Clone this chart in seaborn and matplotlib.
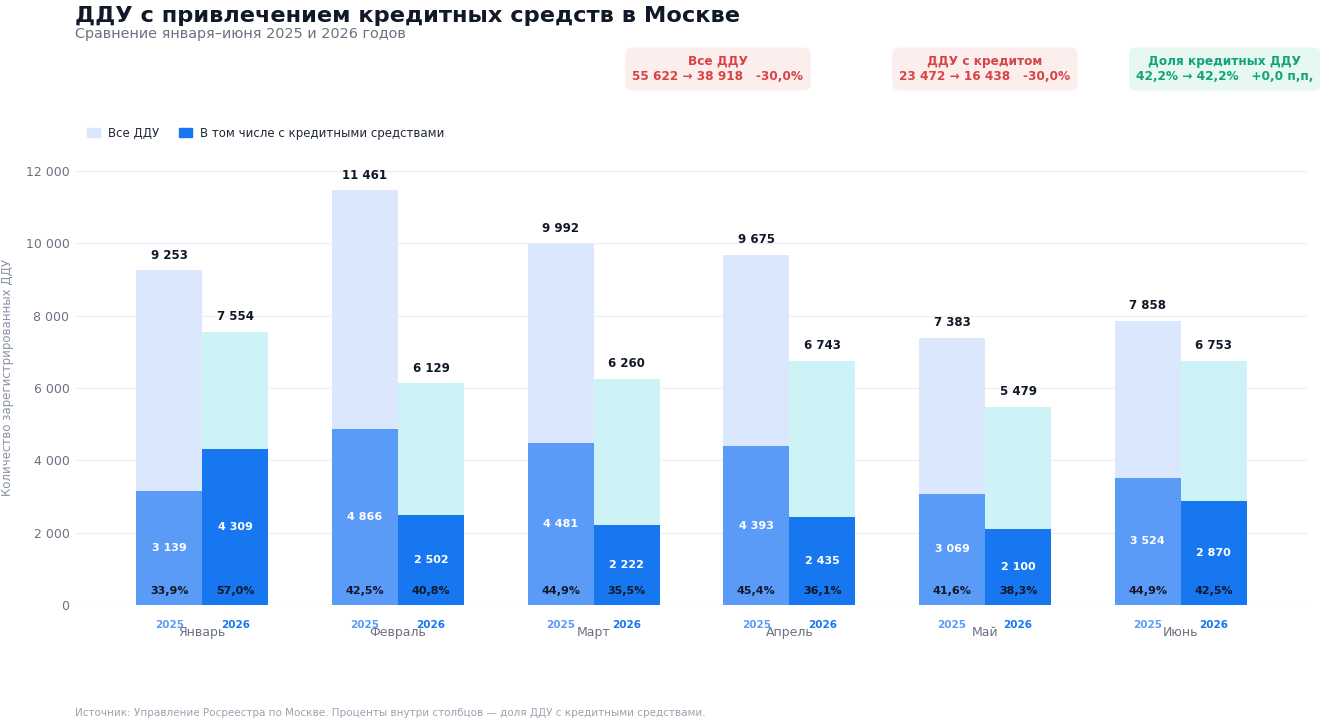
'''plot.py
ДДУ с привлечением кредитных средств в Москве, январь–июнь 2025 vs 2026
'''

import matplotlib.pyplot as plt
from matplotlib.patches import Patch
import seaborn as sns
import pandas as pd

# Data
months = ["Январь", "Февраль", "Март", "Апрель", "Май", "Июнь"]
years = ["2025", "2026"]
all_2025 = [9253, 11461, 9992, 9675, 7383, 7858]
all_2026 = [7554, 6129, 6260, 6743, 5479, 6753]
credit_2025 = [3139, 4866, 4481, 4393, 3069, 3524]
credit_2026 = [4309, 2502, 2222, 2435, 2100, 2870]
share_2025 = [33.9, 42.5, 44.9, 45.4, 41.6, 44.9]  # as printed in the source
share_2026 = [57.0, 40.8, 35.5, 36.1, 38.3, 42.5]

# Colours
C_ALL = {"2025": "#dbe7fd", "2026": "#cdf3f7"}
C_CRED = {"2025": "#5b9bf8", "2026": "#1677f0"}
DARK = "#111827"
GRAY = "#6b7280"


def fmt(v):
    return f"{v:,}".replace(",", " ")


def pct(v):
    return f"{v:.1f}%".replace(".", ",")


# Build long table
dat = pd.DataFrame({
    "Месяц": months * 2,
    "Год": ["2025"] * 6 + ["2026"] * 6,
    "Все": all_2025 + all_2026,
    "Кредит": credit_2025 + credit_2026,
})

sns.set_theme(style="white")
plt.rcParams["font.family"] = ["DejaVu Sans"]

fig = plt.figure(figsize=(13.2, 7.23), dpi=100)
ax = fig.add_axes([75 / 1320, 1 - 605 / 723, (1308 - 75) / 1320, (605 - 149) / 723])

sns.barplot(data=dat, x="Месяц", y="Все", hue="Год", palette=C_ALL, width=0.675,
            linewidth=0, saturation=1, legend=False, ax=ax, zorder=2)
sns.barplot(data=dat, x="Месяц", y="Кредит", hue="Год", palette=C_CRED, width=0.675,
            linewidth=0, saturation=1, legend=False, ax=ax, zorder=3)

# Labels on bars
all_vals = [all_2025, all_2026]
cred_vals = [credit_2025, credit_2026]
shares = [share_2025, share_2026]
for k in range(2):
    for i, bar in enumerate(ax.containers[k]):
        x = bar.get_x() + bar.get_width() / 2
        ax.annotate(fmt(all_vals[k][i]), (x, all_vals[k][i]), xytext=(0, 11),
                    textcoords="offset points", ha="center", va="center",
                    fontsize=8.5, fontweight="bold", color=DARK)
    for i, bar in enumerate(ax.containers[k + 2]):
        x = bar.get_x() + bar.get_width() / 2
        c = cred_vals[k][i]
        ax.text(x, c / 2, fmt(c), ha="center", va="center",
                fontsize=8, fontweight="bold", color="white", zorder=4)
        ax.annotate(pct(shares[k][i]), (x, 0), xytext=(0, 10),
                    textcoords="offset points", ha="center", va="center",
                    fontsize=8, fontweight="bold", color=DARK, zorder=4)
        ax.annotate(years[k], (x, 0), xytext=(0, -14.5), textcoords="offset points",
                    ha="center", va="center", fontsize=7.5, fontweight="bold",
                    color=C_CRED[years[k]], annotation_clip=False)

# Axes styling
ax.set_xlim(-0.65, 5.65)
ax.set_ylim(0, max(all_2025 + all_2026) * 1.1)
ax.set_yticks(range(0, 12001, 2000))
ax.set_yticklabels([fmt(v) for v in range(0, 12001, 2000)])
ax.yaxis.grid(True, color="#eef0f3", linewidth=1, zorder=0)
ax.xaxis.grid(False)
for s in ax.spines.values():
    s.set_visible(False)
ax.tick_params(axis="x", length=0, pad=15, labelsize=9, labelcolor="#6b7280")
ax.tick_params(axis="y", length=0, pad=4, labelsize=9, labelcolor=GRAY)
ax.set_xlabel("")
ax.set_ylabel("Количество зарегистрированных ДДУ", fontsize=8.5, color="#8a94a6", labelpad=8)

# Title and subtitle
fig.text(75 / 1320, 1 - 16 / 723, "ДДУ с привлечением кредитных средств в Москве",
         fontsize=16.2, fontweight="bold", color="#111827", va="center", ha="left")
fig.text(75 / 1320, 1 - 34 / 723, "Сравнение января–июня 2025 и 2026 годов",
         fontsize=10.4, color=GRAY, va="center", ha="left")

# Summary boxes
tot_a = [sum(all_2025), sum(all_2026)]
tot_c = [sum(credit_2025), sum(credit_2026)]
sh = [tot_c[0] / tot_a[0] * 100, tot_c[1] / tot_a[1] * 100]
boxes = [
    (718, "Все ДДУ",
     f"{fmt(tot_a[0])} → {fmt(tot_a[1])}   {pct((tot_a[1] / tot_a[0] - 1) * 100)}",
     "#d64545", "#fdeeee"),
    (985, "ДДУ с кредитом",
     f"{fmt(tot_c[0])} → {fmt(tot_c[1])}   {pct((tot_c[1] / tot_c[0] - 1) * 100)}",
     "#d64545", "#fdeeee"),
    (1225, "Доля кредитных ДДУ",
     f"{pct(sh[0])} → {pct(sh[1])}   +{sh[1] - sh[0]:.1f} п,п,".replace(".", ","),
     "#12a37a", "#e6f8f0"),
]
for xc, head, body, tc, bc in boxes:
    fig.text(xc / 1320, 1 - 69 / 723, head + "\n" + body, ha="center", va="center",
             fontsize=8.7, fontweight="bold", color=tc, linespacing=1.25,
             bbox=dict(boxstyle="round,pad=0.6,rounding_size=0.6", fc=bc, ec="none"))

# Legend
handles = [Patch(color="#dbe7fd", label="Все ДДУ"),
           Patch(color="#1677f0", label="В том числе с кредитными средствами")]
fig.legend(handles=handles, loc="center left", bbox_to_anchor=(76 / 1320, 1 - 133 / 723),
           ncol=2, frameon=False, fontsize=8.5, handlelength=1.1, handleheight=0.8,
           columnspacing=1.7, handletextpad=0.7, labelcolor="#1f2937")

# Footer
fig.text(75 / 1320, 1 - 713 / 723,
         "Источник: Управление Росреестра по Москве. Проценты внутри столбцов — доля ДДУ с кредитными средствами.",
         fontsize=7.5, color="#9ca3af", ha="left", va="center")

plt.savefig("out.png", dpi=100)
